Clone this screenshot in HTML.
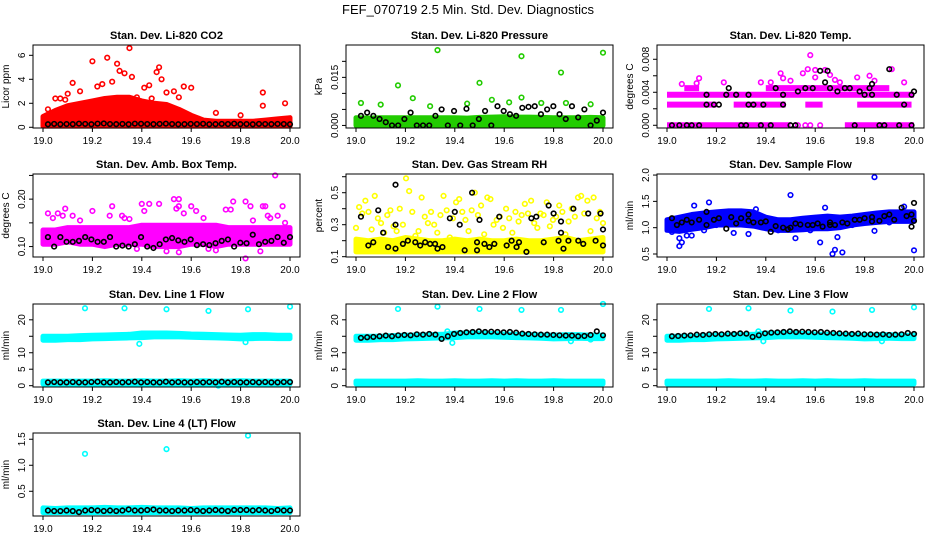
<!DOCTYPE html>
<html><head><meta charset="utf-8">
<style>
html,body{margin:0;padding:0;background:#fff;}
svg{display:block;font-family:"Liberation Sans",sans-serif;}
</style></head>
<body>
<svg id="chart" width="936" height="540" viewBox="0 0 936 540">
<text x="468" y="14" text-anchor="middle" font-size="13">FEF_070719  2.5 Min. Std. Dev. Diagnostics</text>
</svg>
<script>
// ---------- data ----------
const xTicks=[19.0,19.2,19.4,19.6,19.8,20.0];
const xTickLabels=["19.0","19.2","19.4","19.6","19.8","20.0"];

// P1 CO2
const co2BandHi=[0.9,1.4,1.8,2.0,2.2,2.4,2.5,2.5,2.2,2.0,1.9,1.5,1.0,0.6,0.5,0.5,0.5,0.5,0.6,0.7,0.8];
const co2OutX=[19.2,19.26,19.35,19.30,19.31,19.33,19.12,19.46,19.47,19.48,19.28,19.41,19.43,19.57,19.60,19.53,19.89,19.89,19.98,19.70,19.80,19.05,19.10,19.15,19.22,19.38,19.50,19.55,19.63,19.09,19.18,19.24,19.36,19.44,19.02,19.07];
const co2OutY=[5.5,5.8,6.6,5.3,4.7,4.5,3.7,4.6,5.0,4.0,3.8,3.3,3.5,3.4,3.3,3.0,2.9,1.8,2.0,1.2,1.0,2.4,2.8,3.0,3.4,2.5,2.9,2.5,0.7,2.3,2.0,3.6,4.2,2.4,1.5,2.4];
const co2Black=[0.25,0.28,0.25,0.27,0.26,0.3,0.28,0.25,0.3,0.32,0.27,0.26,0.28,0.25,0.3,0.29,0.27,0.26,0.28,0.3,0.27,0.25,0.26,0.28,0.27,0.29,0.25,0.26,0.28,0.27,0.3,0.26,0.27,0.25,0.28,0.27,0.26,0.28,0.27,0.25];

// P2 pressure
const prBandHi=[0.0024,0.0023,0.0024,0.0024,0.0024,0.0024,0.0024,0.0024,0.0024,0.0023,0.0025,0.0026,0.0027,0.0026,0.0026,0.0025,0.0024,0.0024,0.0024,0.0025,0.0024];
const prOutX=[19.33,19.67,20.0,19.83,19.5,19.17,19.23,19.67,19.55,19.02,19.85,19.75,19.1,19.3,19.45,19.62,19.95];
const prOutY=[0.0235,0.0216,0.0227,0.0165,0.0133,0.0125,0.0085,0.0087,0.008,0.007,0.007,0.007,0.0065,0.006,0.0068,0.0072,0.0066];
const prBlack=[0.003,0.004,0.003,0.002,0.001,0.0,0.0,0.002,0.004,0.0,0.0,0.0,0.003,0.005,0.0,0.0045,0.0,0.0052,0.0,0.002,0.0045,0.0,0.006,0.0045,0.0035,0.003,0.0055,0.0058,0.006,0.0035,0.005,0.006,0.0035,0.002,0.006,0.0025,0.005,0.0,0.0015,0.004];

// P3 Li-820 temp
const tRowVal=[0,0,0.0025,0.0025,0.0025,0.0025,0.0037,0.0045,0.0045];
const tRowStart=[19.0,19.72,19.0,19.27,19.56,19.77,19.0,19.07,19.4];
const tRowEnd=[19.5,20.0,19.2,19.48,19.63,19.99,20.0,19.13,19.9];
const tOutX=[19.13,19.12,19.23,19.46,19.47,19.58,19.57,19.6,19.64,19.66,19.82,19.91,19.55,19.5,19.38,19.42,19.68,19.77,19.84,19.06,19.96,19.7,19.6,19.53,19.56,19.62,19.52,19.58];
const tOutY=[0.0057,0.0051,0.0052,0.0063,0.0057,0.0085,0.0068,0.0067,0.0067,0.0061,0.006,0.0068,0.0063,0.0054,0.0052,0.0052,0.0055,0.0058,0.0054,0.005,0.0052,0.0052,0.0058,0.0,0.0,0.0,0.0,0.0];
const tBlackX=[19.02,19.05,19.08,19.1,19.13,19.16,19.16,19.19,19.21,19.25,19.24,19.28,19.3,19.32,19.33,19.33,19.35,19.38,19.39,19.42,19.44,19.47,19.47,19.5,19.52,19.53,19.56,19.59,19.62,19.64,19.65,19.66,19.69,19.72,19.74,19.76,19.78,19.8,19.82,19.83,19.83,19.86,19.88,19.9,19.93,19.94,19.96,19.99,19.99,20.0];
const tBlackY=[0,0,0,0,0,0.0037,0.0025,0.0025,0.0025,0.0045,0.0037,0.0037,0,0,0.0037,0.0025,0.0025,0,0.0025,0,0.0045,0.0037,0.0025,0,0,0.0041,0.0045,0.0045,0.0066,0.0052,0.0066,0.0045,0.0041,0.0045,0.0045,0,0.0041,0.0037,0.0045,0.005,0.0037,0,0,0.0068,0.0037,0,0.0025,0,0.0037,0.0041];

// P4 amb box temp
const abBandLo=[0.105,0.105,0.11,0.105,0.105,0.1,0.105,0.105,0.105,0.1,0.1,0.1,0.105,0.105,0.1,0.105,0.105,0.105,0.105,0.105,0.105];
const abBandHi=[0.135,0.135,0.14,0.14,0.14,0.14,0.14,0.14,0.145,0.145,0.145,0.145,0.145,0.145,0.145,0.14,0.14,0.14,0.14,0.14,0.14];
const abOutX=[19.02,19.06,19.04,19.08,19.09,19.12,19.2,19.27,19.28,19.32,19.33,19.4,19.41,19.43,19.47,19.53,19.55,19.55,19.57,19.54,19.6,19.62,19.74,19.76,19.77,19.82,19.84,19.89,19.9,19.91,19.92,19.94,19.95,19.97,19.5,19.55,19.82,19.88,19.7,19.67,19.38,19.98,19.15,19.35,19.65,19.85];
const abOutY=[0.17,0.17,0.16,0.165,0.18,0.165,0.175,0.165,0.185,0.165,0.16,0.19,0.175,0.19,0.19,0.2,0.2,0.185,0.17,0.18,0.185,0.175,0.178,0.178,0.195,0.195,0.185,0.185,0.185,0.165,0.16,0.25,0.165,0.185,0.09,0.088,0.075,0.09,0.092,0.095,0.095,0.15,0.155,0.158,0.16,0.155];
const abBlack=[0.12,0.1,0.12,0.11,0.11,0.112,0.12,0.115,0.11,0.11,0.12,0.1,0.102,0.1,0.105,0.12,0.1,0.097,0.105,0.115,0.118,0.113,0.11,0.115,0.103,0.105,0.103,0.107,0.112,0.115,0.1,0.108,0.107,0.125,0.105,0.11,0.112,0.12,0.108,0.12];

// P5 RH
const rhBandLo=[0.13,0.13,0.13,0.13,0.13,0.13,0.13,0.13,0.13,0.13,0.13,0.13,0.13,0.13,0.13,0.13,0.13,0.13,0.13,0.13,0.13];
const rhBandHi=[0.21,0.2,0.21,0.2,0.22,0.21,0.2,0.2,0.21,0.2,0.21,0.2,0.2,0.21,0.2,0.2,0.21,0.22,0.2,0.21,0.22];
const rhCloud=[0.28,0.41,0.37,0.45,0.38,0.27,0.48,0.34,0.31,0.25,0.36,0.39,0.29,0.26,0.4,0.3,0.59,0.51,0.38,0.23,0.26,0.47,0.35,0.31,0.38,0.3,0.25,0.36,0.48,0.39,0.22,0.34,0.44,0.46,0.38,0.33,0.26,0.39,0.5,0.36,0.42,0.24,0.47,0.46,0.3,0.33,0.35,0.28,0.4,0.34,0.25,0.38,0.32,0.36,0.43,0.37,0.45,0.31,0.28,0.37,0.36,0.44,0.29,0.33,0.35,0.42,0.38,0.24,0.32,0.4,0.35,0.47,0.48,0.37,0.45,0.26,0.47,0.34,0.38,0.31];
const rhBlackX=[19.02,19.05,19.07,19.09,19.11,19.13,19.16,19.16,19.16,19.19,19.21,19.24,19.26,19.28,19.3,19.32,19.33,19.35,19.38,19.4,19.42,19.44,19.47,19.49,19.49,19.5,19.52,19.54,19.56,19.58,19.61,19.63,19.65,19.66,19.69,19.71,19.73,19.76,19.78,19.8,19.82,19.83,19.83,19.84,19.86,19.88,19.9,19.92,19.94,19.97,19.99,20.0,20.0];
const rhBlackY=[0.35,0.17,0.19,0.39,0.25,0.16,0.3,0.55,0.15,0.18,0.2,0.19,0.17,0.19,0.18,0.18,0.15,0.16,0.34,0.38,0.3,0.14,0.5,0.19,0.14,0.33,0.18,0.16,0.18,0.35,0.17,0.2,0.16,0.19,0.13,0.34,0.35,0.19,0.42,0.37,0.2,0.25,0.32,0.15,0.2,0.4,0.2,0.18,0.37,0.2,0.37,0.27,0.17];

// P6 sample flow
const sfBandLo=[0.95,0.93,0.97,1.0,1.05,1.05,1.05,1.03,0.98,0.95,0.95,0.96,0.98,0.98,1.0,1.05,1.08,1.1,1.12,1.12,1.12];
const sfBandHi=[1.15,1.2,1.25,1.28,1.3,1.32,1.32,1.3,1.2,1.15,1.15,1.18,1.2,1.22,1.2,1.22,1.25,1.28,1.3,1.3,1.3];
const sfOutX=[19.05,19.05,19.06,19.08,19.1,19.11,19.17,19.15,19.27,19.33,19.5,19.52,19.62,19.67,19.68,19.71,19.69,19.84,19.84,20.0,19.64,19.36,19.96,19.02,19.2,19.45,19.58,19.75,19.9];
const sfOutY=[0.8,0.65,0.72,0.85,0.85,1.42,1.48,0.95,0.9,0.88,1.62,0.8,0.72,0.5,0.58,0.53,0.82,1.96,0.94,0.57,1.38,1.35,1.4,0.92,1.05,0.95,0.95,1.05,1.1];
const sfBlackX=[19.02,19.04,19.06,19.08,19.1,19.13,19.16,19.16,19.19,19.21,19.24,19.26,19.28,19.3,19.33,19.33,19.35,19.38,19.4,19.42,19.44,19.47,19.49,19.5,19.52,19.54,19.57,19.59,19.61,19.63,19.66,19.66,19.68,19.71,19.73,19.76,19.78,19.8,19.83,19.83,19.86,19.88,19.9,19.92,19.95,19.97,19.99,19.99,20.0,20.0];
const sfBlackY=[1.18,1.05,1.1,1.15,1.1,1.15,1.3,1.05,1.15,1.18,0.98,1.2,1.08,1.18,1.25,1.13,1.1,1.1,1.12,0.92,1.03,1.0,0.97,1.0,1.08,1.06,1.05,1.05,1.08,1.02,1.1,1.05,1.05,1.1,1.08,1.15,1.15,1.18,1.2,1.12,1.13,1.22,1.25,1.15,1.38,1.22,1.25,1.02,1.47,1.13];

// Line flows
const lnHiLo=[13.8,13.8,14,14,14.2,14.3,14.4,14.5,14.6,14.8,14.8,14.8,14.7,14.6,14.5,14.4,14.2,14.3,14.4,14.3,14.3];
const lnHiHi=[15,15,15,15.2,15.3,15.4,15.5,15.6,16,16,16,15.9,15.7,15.6,15.5,15.4,15.3,15.5,15.5,15.3,15.3];
const lnLowLo=[0.5,0.5,0.5,0.5,0.5,0.5,0.5,0.5,0.5,0.5,0.5,0.5,0.5,0.5,0.5,0.5,0.5,0.5,0.5,0.5,0.5];
const lnLowHi=[1.4,1.4,1.4,1.4,1.4,1.5,1.4,1.4,1.5,1.4,1.4,1.5,1.4,1.5,1.4,1.4,1.5,1.4,1.4,1.4,1.4];
const l1OutX=[19.17,19.33,19.5,19.67,19.83,20.0,19.39,19.82,19.71];
const l1OutY=[23.5,23.5,23.2,22.7,23.2,24,12.7,13.2,0];
const l1Black=[1.0,1.1,1.0,1.0,1.1,1.0,1.0,1.1,1.2,1.0,1.0,1.1,1.0,1.1,1.2,1.0,1.1,1.0,1.0,1.2,1.0,1.1,1.0,1.0,1.1,1.0,1.1,1.0,1.2,1.0,1.1,1.0,1.0,1.1,1.0,1.1,1.0,1.0,1.1,1.1];
const l2OutX=[19.17,19.33,19.5,19.67,19.83,20.0,19.39,19.87,19.37,19.95];
const l2OutY=[23.3,24,23.3,23,23,24.8,13,13.5,16.5,14];
const l2Black=[14.5,14.7,14.8,15.0,15.2,15.0,15.3,15.4,15.3,15.6,15.5,15.7,15.5,14.2,15.0,15.7,16.0,16.2,16.3,16.5,16.3,16.4,16.3,16.2,16.3,16.1,15.8,15.7,15.6,15.5,15.5,15.4,15.3,15.2,15.2,15.0,15.1,15.4,16.5,15.3];
const l3OutX=[19.17,19.33,19.5,19.67,19.83,20.0,19.39,19.87,19.37];
const l3OutY=[23.3,23.5,22.8,22.5,23,23.8,13.5,13.5,16.5];
const l3Black=[15.0,15.1,15.2,15.3,15.5,15.4,15.6,15.7,15.6,15.8,15.7,15.9,15.8,14.8,15.3,15.9,16.1,16.2,16.3,16.5,16.3,16.4,16.3,16.2,16.3,16.1,16.0,15.9,15.8,15.7,15.8,15.6,15.6,15.5,15.6,15.4,15.5,15.6,16.0,15.7];
const l4BandLo=[0.09,0.09,0.09,0.09,0.09,0.09,0.09,0.09,0.09,0.09,0.09,0.09,0.09,0.09,0.09,0.09,0.09,0.09,0.09,0.09,0.09];
const l4BandHi=[0.18,0.17,0.18,0.18,0.18,0.19,0.18,0.18,0.19,0.18,0.18,0.18,0.17,0.18,0.18,0.18,0.18,0.18,0.18,0.17,0.18];
const l4OutX=[19.17,19.5,19.83];
const l4OutY=[1.22,1.31,1.57];
const l4Black=[0.13,0.12,0.12,0.13,0.12,0.1,0.13,0.14,0.13,0.12,0.13,0.12,0.13,0.15,0.13,0.13,0.14,0.15,0.13,0.13,0.12,0.13,0.13,0.14,0.13,0.12,0.13,0.14,0.13,0.12,0.14,0.14,0.14,0.13,0.14,0.13,0.12,0.14,0.13,0.13];

// ---------- drawing ----------
const NS="http://www.w3.org/2000/svg";
const svg=document.getElementById("chart");
const colX=[33,346,657], rowY=[45,174,304,433], BW=267, BH=83;
function mk(tag,attrs,parent){const e=document.createElementNS(NS,tag);for(const k in attrs)e.setAttribute(k,attrs[k]);(parent||svg).appendChild(e);return e;}
function evenX(n,i,a,b){return a+(b-a)*i/(n-1);}

function panel(cfg){
  const L=colX[cfg.col],T=rowY[cfg.row];
  const g=mk("g",{});
  
  
  const xs=v=>L+10+(v-19)*247;
  const ys=v=>T+BH-(v-cfg.ymin)/(cfg.ymax-cfg.ymin)*BH;
  const t=mk("text",{x:L+BW/2,y:T-6,"text-anchor":"middle","font-size":"11","font-weight":"bold"},g);
  t.textContent=cfg.title;
  
  
  const clip=mk("g",{},g);
  
  
  // bands
  (cfg.bands||[]).forEach(bd=>{
    const n=bd.lo.length;let pts=[];
    for(let i=0;i<n;i++)pts.push(xs(evenX(n,i,19,20))+","+ys(bd.lo[i]));
    for(let i=n-1;i>=0;i--)pts.push(xs(evenX(n,i,19,20))+","+ys(bd.hi[i]));
    const p=mk("polygon",{points:pts.join(" "),fill:cfg.color,stroke:cfg.color,"stroke-width":"5","stroke-linejoin":"round"},clip);
    
    
  });
  (cfg.rows||[]).forEach(r=>{
    for(let i=0;i<r.val.length;i++){
      const l=mk("line",{x1:xs(r.start[i]),x2:xs(r.end[i]),y1:ys(r.val[i]),y2:ys(r.val[i]),stroke:cfg.color,"stroke-width":"6"},clip);
      
      
    }
  });
  function dot(x,y,c){
    const e=mk("circle",{cx:xs(x),cy:ys(y),r:"2.3",fill:"none",stroke:c,"stroke-width":"1.6"},clip);
    
    
  }
  if(cfg.cloud){const n=cfg.cloud.length;cfg.cloud.forEach((v,i)=>dot(evenX(n,i,19,20),v,cfg.color));}
  if(cfg.outX)cfg.outX.forEach((x,i)=>dot(x,cfg.outY[i],cfg.color));
  if(cfg.black){const n=cfg.black.length;cfg.black.forEach((v,i)=>dot(evenX(n,i,19.02,20),v,"#000"));}
  if(cfg.blackX)cfg.blackX.forEach((x,i)=>dot(x,cfg.blackY[i],"#000"));
  // box
  const b=mk("rect",{x:L,y:T,width:BW,height:BH,fill:"none",stroke:"#000","stroke-width":"1"},g);
  
  
  // x axis
  xTicks.forEach((v,i)=>{
    const tk=mk("line",{x1:xs(v),x2:xs(v),y1:T+BH,y2:T+BH+4,stroke:"#000"},g);
    
    
    const lb=mk("text",{x:xs(v),y:T+BH+16,"text-anchor":"middle","font-size":"10"},g);
    lb.textContent=xTickLabels[i];
    
    
  });
  // y axis
  cfg.yt.forEach((v,i)=>{
    const y=ys(v);
    const tk=mk("line",{x1:L-4,x2:L,y1:y,y2:y,stroke:"#000"},g);
    
    
    if(cfg.yl[i]){
      const lb=mk("text",{x:L-8,y:y,"text-anchor":"middle","font-size":"10",transform:`rotate(-90 ${L-8} ${y})`},g);
      lb.textContent=cfg.yl[i];
      
      
    }
  });
  const yx=L-24,yy=T+BH/2;
  const yt=mk("text",{x:yx,y:yy,"text-anchor":"middle","font-size":"10",transform:`rotate(-90 ${yx} ${yy})`},g);
  yt.textContent=cfg.ylab;
  
  
}

panel({name:"panel-co2",col:0,row:0,title:"Stan. Dev. Li-820 CO2",ylab:"Licor ppm",color:"#ff0000",ymin:-0.06,ymax:6.86,
  yt:[0,2,4,6],yl:["0","2","4","6"],bands:[{lo:co2BandHi.map(()=>0.1),hi:co2BandHi}],outX:co2OutX,outY:co2OutY,black:co2Black});
panel({name:"panel-pressure",col:1,row:0,title:"Stan. Dev. Li-820 Pressure",ylab:"kPa",color:"#22cc00",ymin:-0.0008,ymax:0.0251,
  yt:[0,0.005,0.01,0.015,0.02],yl:["0.000","","","0.015",""],bands:[{lo:prBandHi.map(()=>0),hi:prBandHi}],outX:prOutX,outY:prOutY,black:prBlack});
panel({name:"panel-li820-temp",col:2,row:0,title:"Stan. Dev. Li-820 Temp.",ylab:"degrees C",color:"#ff00ff",ymin:-0.00033,ymax:0.00973,
  yt:[0,0.002,0.004,0.006,0.008],yl:["0.000","","0.004","","0.008"],rows:[{val:tRowVal,start:tRowStart,end:tRowEnd}],outX:tOutX,outY:tOutY,blackX:tBlackX,blackY:tBlackY});
panel({name:"panel-amb-box-temp",col:0,row:1,title:"Stan. Dev. Amb. Box Temp.",ylab:"degrees C",color:"#ff00ff",ymin:0.078,ymax:0.253,
  yt:[0.1,0.15,0.2,0.25],yl:["0.10","","0.20",""],bands:[{lo:abBandLo,hi:abBandHi}],outX:abOutX,outY:abOutY,black:abBlack});
panel({name:"panel-rh",col:1,row:1,title:"Stan. Dev. Gas Stream RH",ylab:"percent",color:"#ffff00",ymin:0.098,ymax:0.617,
  yt:[0.1,0.2,0.3,0.4,0.5,0.6],yl:["0.1","","0.3","","0.5",""],bands:[{lo:rhBandLo,hi:rhBandHi}],cloud:rhCloud,blackX:rhBlackX,blackY:rhBlackY});
panel({name:"panel-sample-flow",col:2,row:1,title:"Stan. Dev. Sample Flow",ylab:"ml/min",color:"#0000ff",ymin:0.443,ymax:2.02,
  yt:[0.5,1,1.5,2],yl:["0.5","1.0","1.5","2.0"],bands:[{lo:sfBandLo,hi:sfBandHi}],outX:sfOutX,outY:sfOutY,blackX:sfBlackX,blackY:sfBlackY});
panel({name:"panel-line1-flow",col:0,row:2,title:"Stan. Dev. Line 1 Flow",ylab:"ml/min",color:"#00ffff",ymin:-0.4,ymax:24.8,
  yt:[0,5,10,15,20],yl:["0","5","10","","20"],bands:[{lo:lnHiLo,hi:lnHiHi},{lo:lnLowLo,hi:lnLowHi}],outX:l1OutX,outY:l1OutY,black:l1Black});
panel({name:"panel-line2-flow",col:1,row:2,title:"Stan. Dev. Line 2 Flow",ylab:"ml/min",color:"#00ffff",ymin:-0.4,ymax:24.8,
  yt:[0,5,10,15,20],yl:["0","5","10","","20"],bands:[{lo:lnHiLo,hi:lnHiHi},{lo:lnLowLo,hi:lnLowHi}],outX:l2OutX,outY:l2OutY,black:l2Black});
panel({name:"panel-line3-flow",col:2,row:2,title:"Stan. Dev. Line 3 Flow",ylab:"ml/min",color:"#00ffff",ymin:-0.4,ymax:24.8,
  yt:[0,5,10,15,20],yl:["0","5","10","","20"],bands:[{lo:lnHiLo,hi:lnHiHi},{lo:lnLowLo,hi:lnLowHi}],outX:l3OutX,outY:l3OutY,black:l3Black});
panel({name:"panel-line4-flow",col:0,row:3,title:"Stan. Dev. Line 4 (LT) Flow",ylab:"ml/min",color:"#00ffff",ymin:0.025,ymax:1.62,
  yt:[0.5,1,1.5],yl:["0.5","1.0","1.5"],bands:[{lo:l4BandLo,hi:l4BandHi}],outX:l4OutX,outY:l4OutY,black:l4Black});
</script>
</body></html>
